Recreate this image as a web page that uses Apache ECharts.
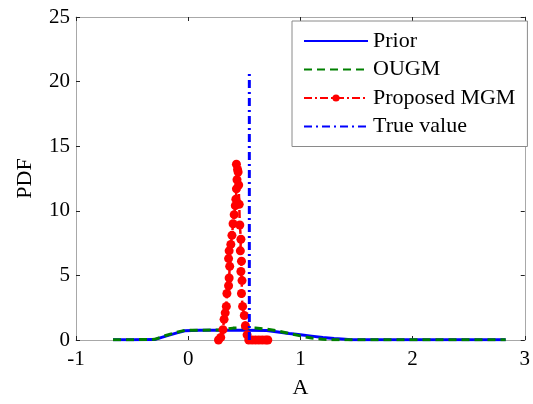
<!DOCTYPE html>
<html>
<head>
<meta charset="utf-8">
<script src="https://cdn.jsdelivr.net/npm/echarts@6/dist/echarts.min.js"></script>
<style>html,body{margin:0;padding:0;background:#fff}#c{width:533px;height:404px}</style>
</head>
<body>
<div id="c"></div>
<script>
const seriesNames = ['Prior', 'OUGM', 'Proposed MGM', 'True value'];
const xTicks = [-1, 0, 1, 2, 3];
const yTicks = [0, 5, 10, 15, 20, 25];

const priorX = [-0.67, -0.5, -0.3, -0.2, -0.1, -0.03, 0.1, 0.3, 0.5, 0.7, 0.8, 0.9, 1.0, 1.1, 1.2, 1.3, 1.4, 1.45, 1.8, 2.2, 2.6, 2.83];
const priorY = [0.02, 0.02, 0.03, 0.3, 0.55, 0.72, 0.76, 0.76, 0.76, 0.74, 0.62, 0.5, 0.4, 0.3, 0.2, 0.12, 0.06, 0.02, 0.02, 0.02, 0.02, 0.02];

const ougmX = [-0.67, -0.5, -0.3, -0.2, -0.1, -0.03, 0.1, 0.3, 0.4, 0.5, 0.6, 0.7, 0.8, 0.9, 1.0, 1.1, 1.2, 1.3, 1.6, 2.0, 2.4, 2.83];
const ougmY = [0.02, 0.02, 0.05, 0.35, 0.6, 0.75, 0.75, 0.78, 0.92, 0.95, 0.92, 0.85, 0.7, 0.5, 0.32, 0.15, 0.05, 0.02, 0.02, 0.02, 0.02, 0.02];

const mgmX = [0.27, 0.29, 0.31, 0.32, 0.33, 0.34, 0.345, 0.36, 0.365, 0.37, 0.36, 0.365, 0.38, 0.39, 0.40, 0.41, 0.42, 0.425, 0.43, 0.435, 0.44, 0.43, 0.445, 0.45, 0.455, 0.46, 0.47, 0.465, 0.475, 0.47, 0.48, 0.475, 0.485, 0.50, 0.51, 0.525, 0.54, 0.57, 0.60, 0.63, 0.66, 0.69, 0.71];
const mgmY = [0, 0.2, 0.8, 1.6, 2.1, 2.6, 3.6, 4.2, 4.8, 5.7, 6.3, 6.9, 7.4, 8.1, 9.0, 9.7, 10.4, 10.9, 11.7, 12.4, 13.2, 13.6, 13.0, 12.0, 10.5, 8.9, 7.8, 6.9, 6.1, 5.3, 4.6, 3.6, 2.6, 1.9, 1.1, 0.4, 0, 0, 0, 0, 0, 0, 0];

const trueX = [0.545, 0.545];
const trueY = [0, 20.8];

const zip = (a, b) => a.map((v, i) => [v, b[i]]);
const font = 'Liberation Serif, Times New Roman, serif';

const chart = echarts.init(document.getElementById('c'), null, {renderer: 'canvas'});
const axisCommon = {
  type: 'value',
  axisLine: {show: true, onZero: false, lineStyle: {color: '#a8a8a8', width: 1}},
  axisTick: {show: true, inside: true, length: 4, lineStyle: {color: '#222'}},
  splitLine: {show: false}
};
chart.setOption({
  animation: false,
  backgroundColor: '#fff',
  grid: {left: 76, right: 7, top: 17, bottom: 55, show: false},
  xAxis: [
    Object.assign({}, axisCommon, {
      min: -1, max: 3, interval: 1, position: 'bottom',
      name: 'A', nameLocation: 'middle', nameGap: 37,
      nameTextStyle: {fontFamily: font, fontSize: 22, color: '#000'},
      axisLabel: {fontFamily: font, fontSize: 21, color: '#000', margin: 9,
        formatter: v => xTicks.includes(v) ? String(v) : ''}
    }),
    Object.assign({}, axisCommon, {
      min: -1, max: 3, interval: 1, position: 'top', axisLabel: {show: false}
    })
  ],
  yAxis: [
    Object.assign({}, axisCommon, {
      min: 0, max: 25, interval: 5, position: 'left',
      name: 'PDF', nameLocation: 'middle', nameGap: 40, nameRotate: 90,
      nameTextStyle: {fontFamily: font, fontSize: 22, color: '#000'},
      axisLabel: {fontFamily: font, fontSize: 21, color: '#000', margin: 6,
        formatter: v => yTicks.includes(v) ? String(v) : ''}
    }),
    Object.assign({}, axisCommon, {
      min: 0, max: 25, interval: 5, position: 'right', axisLabel: {show: false}
    })
  ],
  legend: {
    orient: 'vertical', left: 292, top: 21, width: 233,
    padding: [9, 12, 9, 11], itemGap: 6.5, itemWidth: 64, itemHeight: 9,
    backgroundColor: '#fff', borderColor: '#8a8a8a', borderWidth: 1,
    textStyle: {fontFamily: font, fontSize: 22, color: '#000', lineHeight: 22},
    data: seriesNames
  },
  series: [
    {name: seriesNames[0], type: 'line', data: zip(priorX, priorY), symbol: 'none',
      lineStyle: {color: '#0000ff', width: 3}, itemStyle: {color: '#0000ff', opacity: 0}, z: 2},
    {name: seriesNames[1], type: 'line', data: zip(ougmX, ougmY), symbol: 'none',
      lineStyle: {color: '#008000', width: 3, type: [8, 5]}, itemStyle: {color: '#008000', opacity: 0}, z: 3},
    {name: seriesNames[2], type: 'line', data: zip(mgmX, mgmY), symbol: 'circle', symbolSize: 9,
      showSymbol: true,
      lineStyle: {color: '#ff0000', width: 2.5, type: [8, 3, 2, 3]}, itemStyle: {color: '#ff0000'}, z: 4},
    {name: seriesNames[3], type: 'line', data: zip(trueX, trueY), symbol: 'none',
      lineStyle: {color: '#0000ff', width: 3, type: [8, 4, 2, 4]}, itemStyle: {color: '#0000ff', opacity: 0}, z: 5}
  ]
});
</script>
</body>
</html>
